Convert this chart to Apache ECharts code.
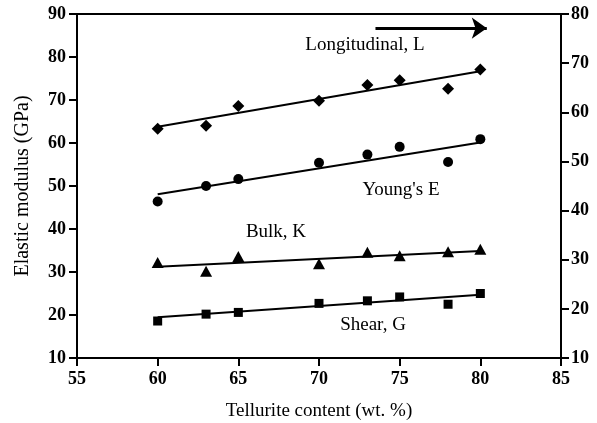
<!DOCTYPE html>
<html>
<head>
<meta charset="UTF-8">
<title>Elastic modulus</title>
<script src="https://cdn.jsdelivr.net/npm/echarts@6/dist/echarts.min.js"></script>
<style>
  html, body { margin: 0; padding: 0; background: #fff; }
  #chart { width: 597px; height: 423px; }
</style>
</head>
<body>
<div id="chart"></div>
<script>
// tellurite content (wt. %)
var tellurite = [60, 63, 65, 70, 73, 75, 78, 80];
// measured moduli (GPa)
var longitudinal = [63.3, 64.0, 68.6, 69.8, 73.5, 74.6, 72.6, 77.1];
var youngs = [46.4, 50.0, 51.6, 55.4, 57.3, 59.1, 55.6, 60.9];
var bulk = [32.2, 30.2, 33.6, 31.9, 34.6, 33.8, 34.7, 35.3];
var shear = [18.6, 20.2, 20.6, 22.7, 23.3, 24.2, 22.5, 25.0];
// fit line ends (x = 60 and x = 80)
var fitX = [60, 80];
var fitL = [63.8, 76.7];
var fitE = [48.1, 60.1];
var fitK = [31.2, 34.9];
var fitG = [19.5, 24.7];
// arrow toward the right axis
var arrowX = [73.5, 80.4];
var arrowY = 86.7;

function pairs(xs, ys) {
  var out = [];
  for (var i = 0; i < xs.length; i++) out.push([xs[i], ys[i]]);
  return out;
}

var serif = 'Liberation Serif';
var axisLine = { show: true, lineStyle: { color: '#000', width: 2 } };
var axisTick = { show: true, inside: false, length: 8, lineStyle: { color: '#000', width: 2 } };
var tickFont = { color: '#000', fontFamily: serif, fontWeight: 'bold', fontSize: 18 };
var titleFont = { color: '#000', fontFamily: serif, fontSize: 19 };

function dots(data, symbol, size) {
  return {
    type: 'scatter', data: data, symbol: symbol, symbolSize: size,
    itemStyle: { color: '#000', opacity: 1 }, z: 3, silent: true
  };
}
function fit(ys) {
  return {
    type: 'line', data: pairs(fitX, ys), showSymbol: false, symbol: 'none',
    lineStyle: { color: '#000', width: 2 }, silent: true, z: 2
  };
}
function note(text, x, y) {
  return {
    type: 'text', x: x, y: y, z: 10,
    style: { text: text, fill: '#000', font: '19px "Liberation Serif"', align: 'center', verticalAlign: 'middle' }
  };
}

var chart = echarts.init(document.getElementById('chart'));
chart.setOption({
  animation: false,
  grid: {
    left: 77, right: 36, top: 14, bottom: 65, outerBoundsMode: 'none', containLabel: false,
    show: true, borderColor: '#000', borderWidth: 2
  },
  xAxis: {
    type: 'value', min: 55, max: 85, interval: 5,
    name: 'Tellurite content (wt. %)', nameLocation: 'middle', nameGap: 44,
    nameTextStyle: titleFont,
    axisLine: axisLine, axisTick: axisTick, splitLine: { show: false },
    axisLabel: Object.assign({ margin: 12 }, tickFont)
  },
  yAxis: [{
    type: 'value', min: 10, max: 90, interval: 10,
    name: 'Elastic modulus (GPa)', nameLocation: 'middle', nameGap: 44,
    nameTextStyle: { color: '#000', fontFamily: serif, fontSize: 20 },
    axisLine: axisLine, axisTick: axisTick, splitLine: { show: false },
    axisLabel: Object.assign({ margin: 11 }, tickFont)
  }, {
    type: 'value', position: 'right', min: 10, max: 80, interval: 10,
    alignTicks: false,
    axisLine: axisLine, axisTick: axisTick, splitLine: { show: false },
    axisLabel: Object.assign({ margin: 10 }, tickFont)
  }],
  graphic: [
    note('Longitudinal, L', 365, 45),
    note("Young's E", 401, 190),
    note('Bulk, K', 276, 232),
    note('Shear, G', 373, 325)
  ],
  series: [
    fit(fitL), fit(fitE), fit(fitK), fit(fitG),
    dots(pairs(tellurite, longitudinal), 'diamond', [12, 12]),
    dots(pairs(tellurite, youngs), 'circle', 10),
    dots(pairs(tellurite, bulk), 'triangle', [12, 11]),
    dots(pairs(tellurite, shear), 'rect', 9),
    {
      type: 'line', data: [], silent: true,
      markLine: {
        silent: true, symbol: ['none', 'arrow'], symbolSize: [16, 15],
        label: { show: false },
        lineStyle: { color: '#000', width: 3, type: 'solid' },
        data: [[{ coord: [arrowX[0], arrowY] }, { coord: [arrowX[1], arrowY] }]]
      }
    }
  ]
});
</script>
</body>
</html>
